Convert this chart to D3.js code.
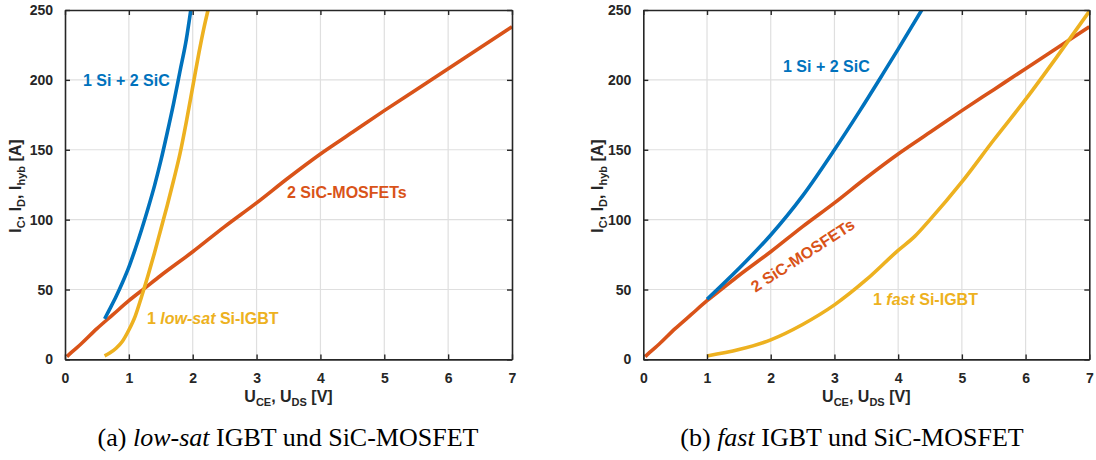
<!DOCTYPE html>
<html>
<head>
<meta charset="utf-8">
<script src="https://cdn.jsdelivr.net/npm/d3@7/dist/d3.min.js"></script>
<style>
  html, body { margin: 0; padding: 0; background: #fff; }
  svg { display: block; }
  .tick-label { font-family: "Liberation Sans", Arial, sans-serif; font-weight: bold; font-size: 14px; fill: #262626; }
  .axis-label { font-family: "Liberation Sans", Arial, sans-serif; font-weight: bold; font-size: 16px; fill: #262626; }
  .note { font-family: "Liberation Sans", Arial, sans-serif; font-weight: bold; font-size: 16px; }
  .caption { font-family: "Liberation Serif", "Times New Roman", serif; font-size: 26px; fill: #000; }
</style>
</head>
<body>
<svg id="chart" width="1096" height="460"></svg>
<script>
// Output characteristics: current [A] over forward voltage [V]
const voltageTicks = [0, 1, 2, 3, 4, 5, 6, 7];
const currentTicks = [0, 50, 100, 150, 200, 250];

// two SiC-MOSFETs in parallel (same devices in both panels)
const sicMosfets = [
  [0.03, 2], [0.1, 5], [0.25, 11], [0.5, 22], [0.75, 32], [1.0, 42], [1.25, 51],
  [1.5, 60], [2.0, 77], [2.5, 95], [3.0, 112], [3.5, 130], [4.0, 147], [4.5, 162.5],
  [5.0, 178], [5.5, 193], [6.0, 208], [6.5, 223], [7.0, 238]
];

// (a) low-sat IGBT
const igbtLowSat = [
  [0.62, 2.5], [0.7, 4.5], [0.8, 8], [0.9, 13], [1.0, 21], [1.1, 31], [1.2, 45],
  [1.3, 60], [1.4, 76], [1.5, 93], [1.6, 110], [1.7, 128], [1.8, 147], [1.9, 170],
  [2.0, 195], [2.1, 220], [2.17, 236], [2.24, 250]
];
const hybridLowSat = [
  [0.62, 29], [0.7, 36], [0.8, 45], [0.9, 55], [1.0, 66], [1.1, 79], [1.2, 93],
  [1.3, 108], [1.4, 124], [1.5, 142], [1.6, 162], [1.7, 183], [1.8, 206],
  [1.9, 229], [1.97, 250]
];

// (b) fast IGBT
const igbtFast = [
  [1.0, 2.5], [1.5, 7], [2.0, 14], [2.5, 25], [3.0, 39], [3.5, 57], [4.0, 78],
  [4.26, 88], [4.5, 100], [5.0, 127], [5.5, 157], [6.0, 186], [6.5, 217], [7.0, 249]
];
const hybridFast = [
  [1.0, 43], [1.5, 65], [2.0, 89], [2.5, 117], [3.0, 150], [3.4, 178],
  [3.77, 205], [4.0, 222], [4.37, 250]
];

const colors = { hybrid: "#0072BD", sic: "#D95319", igbt: "#EDB120" };

const svg = d3.select("#chart");

function drawPanel(p) {
  const x = d3.scaleLinear().domain([0, 7]).range([p.left, p.right]);
  const y = d3.scaleLinear().domain([0, 250]).range([p.bottom, p.top]);
  const g = svg.append("g");

  // grid
  g.append("g").selectAll("line").data(voltageTicks.slice(1, -1)).join("line")
    .attr("x1", d => x(d)).attr("x2", d => x(d))
    .attr("y1", p.top).attr("y2", p.bottom)
    .attr("stroke", "#dfdfdf").attr("stroke-width", 1.2);
  g.append("g").selectAll("line").data(currentTicks.slice(1, -1)).join("line")
    .attr("y1", d => y(d)).attr("y2", d => y(d))
    .attr("x1", p.left).attr("x2", p.right)
    .attr("stroke", "#dfdfdf").attr("stroke-width", 1.2);

  // curves
  const clipId = "clip-" + p.id;
  svg.append("clipPath").attr("id", clipId).append("rect")
    .attr("x", p.left).attr("y", p.top)
    .attr("width", p.right - p.left).attr("height", p.bottom - p.top);
  const line = d3.line().x(d => x(d[0])).y(d => y(d[1])).curve(d3.curveMonotoneX);
  const curves = g.append("g").attr("clip-path", `url(#${clipId})`);
  p.series.forEach(s => {
    curves.append("path").datum(s.data)
      .attr("d", line).attr("fill", "none")
      .attr("stroke", s.color).attr("stroke-width", 3.6)
      .attr("stroke-linejoin", "round");
  });

  // axes (box with inward ticks)
  const tl = -5;
  const fmt = d3.format("d");
  const axB = d3.axisBottom(x).tickValues(voltageTicks).tickFormat(fmt).tickSizeInner(tl).tickSizeOuter(0).tickPadding(14);
  const axT = d3.axisTop(x).tickValues(voltageTicks).tickSizeInner(tl).tickSizeOuter(0).tickFormat("");
  const axL = d3.axisLeft(y).tickValues(currentTicks).tickFormat(fmt).tickSizeInner(tl).tickSizeOuter(0).tickPadding(12);
  const axR = d3.axisRight(y).tickValues(currentTicks).tickSizeInner(tl).tickSizeOuter(0).tickFormat("");
  const style = sel => {
    sel.select(".domain").attr("stroke", "#262626").attr("stroke-width", 1.6);
    sel.selectAll(".tick line").attr("stroke", "#262626").attr("stroke-width", 1.4);
    sel.selectAll(".tick text").attr("class", "tick-label").attr("fill", null);
  };
  g.append("g").attr("transform", `translate(0,${p.bottom})`).call(axB).call(style);
  g.append("g").attr("transform", `translate(0,${p.top})`).call(axT).call(style);
  g.append("g").attr("transform", `translate(${p.left},0)`).call(axL).call(style);
  g.append("g").attr("transform", `translate(${p.right},0)`).call(axR).call(style);

  // x label: U_CE, U_DS [V]
  const xl = g.append("text").attr("class", "axis-label")
    .attr("x", (p.left + p.right) / 2).attr("y", 401.5).attr("text-anchor", "middle");
  xl.append("tspan").text("U");
  xl.append("tspan").attr("dy", 4).attr("font-size", 11).text("CE");
  xl.append("tspan").attr("dy", -4).text(", U");
  xl.append("tspan").attr("dy", 4).attr("font-size", 11).text("DS");
  xl.append("tspan").attr("dy", -4).text(" [V]");

  // y label: I_C, I_D, I_hyb [A]
  const yl = g.append("text").attr("class", "axis-label")
    .attr("transform", `translate(${p.yLabelX},186) rotate(-90)`).attr("text-anchor", "middle");
  yl.append("tspan").text("I");
  yl.append("tspan").attr("dy", 4).attr("font-size", 11).text("C");
  yl.append("tspan").attr("dy", -4).text(", I");
  yl.append("tspan").attr("dy", 4).attr("font-size", 11).text("D");
  yl.append("tspan").attr("dy", -4).text(", I");
  yl.append("tspan").attr("dy", 4).attr("font-size", 11).text("hyb");
  yl.append("tspan").attr("dy", -4).text(" [A]");

  // curve annotations
  p.notes.forEach(n => {
    const t = g.append("text").attr("class", "note").attr("fill", n.color)
      .attr("x", n.x).attr("y", n.y);
    if (n.rotate) {
      t.attr("x", null).attr("y", null)
        .attr("transform", `translate(${n.x},${n.y}) rotate(${n.rotate})`)
        .attr("text-anchor", "middle").attr("dominant-baseline", "central");
    }
    n.parts.forEach(part => {
      const s = t.append("tspan").text(part.t);
      if (part.italic) s.attr("font-style", "italic");
    });
  });

  // caption
  const c = svg.append("text").attr("class", "caption")
    .attr("x", p.captionX).attr("y", 446).attr("text-anchor", "middle");
  p.caption.forEach(part => {
    const s = c.append("tspan").text(part.t);
    if (part.italic) s.attr("font-style", "italic");
  });
}

drawPanel({
  id: "a", left: 65, right: 512, top: 10, bottom: 359.4, yLabelX: 20.5, captionX: 288,
  series: [
    { data: sicMosfets, color: colors.sic },
    { data: igbtLowSat, color: colors.igbt },
    { data: hybridLowSat, color: colors.hybrid }
  ],
  notes: [
    { x: 83, y: 86, color: colors.hybrid, parts: [{ t: "1 Si + 2 SiC" }] },
    { x: 287, y: 198, color: colors.sic, parts: [{ t: "2 SiC-MOSFETs" }] },
    { x: 147, y: 324, color: colors.igbt, parts: [{ t: "1 " }, { t: "low-sat", italic: true }, { t: " Si-IGBT" }] }
  ],
  caption: [{ t: "(a) " }, { t: "low-sat", italic: true }, { t: " IGBT und SiC-MOSFET" }]
});

drawPanel({
  id: "b", left: 643.3, right: 1089.3, top: 10, bottom: 359.4, yLabelX: 602.5, captionX: 852,
  series: [
    { data: sicMosfets, color: colors.sic },
    { data: igbtFast, color: colors.igbt },
    { data: hybridFast, color: colors.hybrid }
  ],
  notes: [
    { x: 783, y: 72, color: colors.hybrid, parts: [{ t: "1 Si + 2 SiC" }] },
    { x: 802.5, y: 255, rotate: -33, color: colors.sic, parts: [{ t: "2 SiC-MOSFETs" }] },
    { x: 873, y: 305, color: colors.igbt, parts: [{ t: "1 " }, { t: "fast", italic: true }, { t: " Si-IGBT" }] }
  ],
  caption: [{ t: "(b) " }, { t: "fast", italic: true }, { t: " IGBT und SiC-MOSFET" }]
});
</script>
</body>
</html>
